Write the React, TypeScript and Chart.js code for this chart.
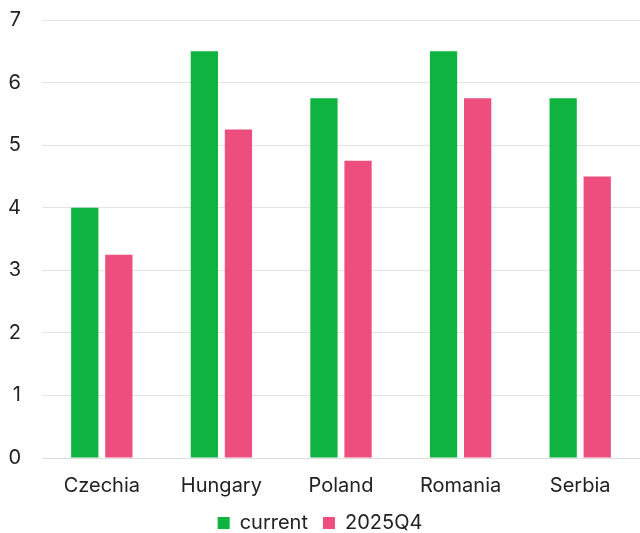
import React, { useEffect, useRef } from "react";
import { Chart, registerables } from "chart.js";

Chart.register(...registerables);

const categories = ["Czechia", "Hungary", "Poland", "Romania", "Serbia"];
const currentValues = [4, 6.5, 5.75, 6.5, 5.75];
const q4Values = [3.25, 5.25, 4.75, 5.75, 4.5];
const yTicks = [0, 1, 2, 3, 4, 5, 6, 7];

export default function App() {
  const ref = useRef<HTMLCanvasElement>(null);
  useEffect(() => {
    document.body.style.margin = "0";
    const chart = new Chart(ref.current!, {
      type: "bar",
      data: {
        labels: categories,
        datasets: [
          {
            label: "current",
            data: currentValues,
            backgroundColor: "#0fb33f",
            barPercentage: 0.8,
            categoryPercentage: 0.57,
          },
          {
            label: "2025Q4",
            data: q4Values,
            backgroundColor: "#ee4e7e",
            barPercentage: 0.8,
            categoryPercentage: 0.57,
          },
        ],
      },
      options: {
        animation: false,
        responsive: false,
        layout: { padding: { top: 0, left: 0, right: 0, bottom: -10 } },
        font: { family: "Inter", size: 20 },
        plugins: {
          legend: {
            position: "bottom",
            labels: {
              color: "#222",
              font: { family: "Inter", size: 20 },
              boxWidth: 12,
              boxHeight: 12,
              padding: 15,
            },
          },
          tooltip: { enabled: false },
        },
        scales: {
          x: {
            grid: { display: false, drawTicks: false },
            border: { color: "#dcdcdc" },
            ticks: { color: "#222", font: { family: "Inter", size: 20 }, padding: 16 },
            afterFit: (axis: any) => {
              axis.height = 40;
            },
          },
          y: {
            min: 0,
            max: 7,
            afterBuildTicks: (axis: any) => {
              axis.ticks = yTicks.map((v) => ({ value: v }));
            },
            afterFit: (axis: any) => {
              axis.width = 42;
              axis.paddingTop = 20;
            },
            grid: { color: "#e3e3e3", drawTicks: false },
            border: { display: false },
            ticks: { color: "#222", font: { family: "Inter", size: 20 }, padding: 21 },
          },
        },
      },
    });
    return () => chart.destroy();
  }, []);
  return (
    <div style={{ position: "absolute", left: 0, top: 0, width: 640, height: 533 }}>
      <canvas ref={ref} width={640} height={533} />
    </div>
  );
}
